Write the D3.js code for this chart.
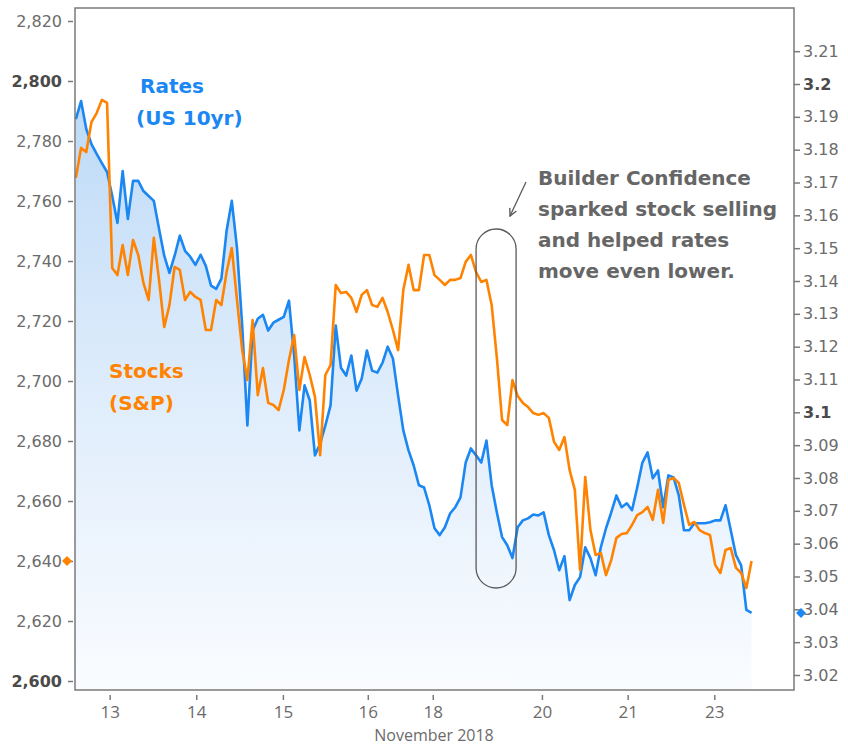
<!DOCTYPE html>
<html>
<head>
<meta charset="utf-8">
<script src="https://cdn.jsdelivr.net/npm/d3@7"></script>
<style>
body { margin: 0; background: #fff; }
svg text { font-family: "DejaVu Sans", Verdana, sans-serif; }
</style>
</head>
<body>
<div id="chart"></div>
<script>
// trading-session position of each sample (13 = start of Nov 13)
var times = [
  12.61,12.67,12.73,12.79,12.85,12.91,12.97,13.03,13.09,13.15,
  13.21,13.27,13.33,13.39,13.45,13.51,13.57,13.63,13.69,13.75,
  13.81,13.87,13.93,13.99,14.05,14.11,14.17,14.23,14.29,14.35,
  14.41,14.47,14.53,14.59,14.65,14.71,14.77,14.83,14.89,14.95,
  15.01,15.07,15.13,15.19,15.25,15.31,15.37,15.43,15.49,15.55,
  15.61,15.67,15.73,15.79,15.85,15.91,15.97,16.03,16.09,16.15,
  16.21,16.27,16.33,16.39,16.45,16.51,16.57,16.63,16.69,16.75,
  16.81,16.87,16.93,16.99,17.05,17.11,17.17,17.23,17.29,17.35,
  17.41,17.47,17.53,17.59,17.65,17.71,17.77,17.83,17.89,17.95,
  18.01,18.07,18.13,18.19,18.25,18.31,18.37,18.43,18.49,18.55,
  18.61,18.67,18.73,18.79,18.85,18.91,18.97,19.03,19.09,19.15,
  19.21,19.27,19.33,19.39,19.45,19.51,19.57,19.63,19.69,19.75,
  19.81,19.87,19.93,19.99,20.05,20.11,20.17,20.23,20.29,20.35,
  20.41
];

// S&P 500 (left axis)
var stocks = [
  2767.7,2777.7,2776.3,2786.3,2789.3,2793.7,2792.7,2737.7,2735.3,2745.3,
  2735.3,2747.0,2742.0,2732.7,2727.0,2747.7,2733.7,2718.0,2725.3,2738.0,
  2737.0,2727.0,2729.7,2728.0,2727.0,2717.0,2717.0,2727.0,2725.3,2736.3,
  2744.3,2727.0,2710.3,2700.3,2720.3,2695.3,2704.3,2692.7,2692.0,2690.3,
  2697.0,2707.0,2715.3,2697.0,2708.0,2702.0,2694.7,2675.3,2702.0,2705.3,
  2732.0,2729.3,2729.7,2727.7,2723.0,2728.7,2730.3,2725.3,2724.7,2727.7,
  2723.0,2717.0,2710.3,2730.3,2738.7,2730.3,2730.3,2742.0,2742.0,2735.3,
  2733.7,2732.0,2733.7,2733.7,2734.3,2739.7,2742.0,2736.3,2733.0,2733.7,
  2725.3,2707.7,2687.0,2685.3,2700.3,2695.0,2692.7,2691.3,2689.3,2688.7,
  2689.3,2687.7,2679.7,2677.0,2681.3,2670.3,2663.7,2637.0,2668.0,2650.3,
  2642.0,2642.7,2635.3,2640.3,2647.7,2649.0,2649.3,2652.0,2655.3,2656.3,
  2658.0,2653.7,2663.7,2652.7,2667.0,2667.7,2666.0,2658.7,2652.0,2653.0,
  2650.3,2649.3,2648.7,2638.7,2636.0,2643.7,2644.3,2637.7,2636.0,2631.0,
  2640.0
];

// US 10yr yield (right axis)
var rates = [
  3.1893,3.1948,3.1863,3.1817,3.1787,3.1759,3.1732,3.1659,3.1577,3.1735,
  3.1589,3.1705,3.1705,3.1674,3.1659,3.1644,3.1559,3.1477,3.1425,3.1477,
  3.1538,3.1492,3.1474,3.1449,3.1480,3.1446,3.1386,3.1376,3.1407,3.1553,
  3.1644,3.1501,3.1264,3.0960,3.1249,3.1285,3.1297,3.1249,3.1273,3.1282,
  3.1291,3.1340,3.1173,3.0945,3.1082,3.1036,3.0869,3.0905,3.0960,3.1021,
  3.1264,3.1136,3.1112,3.1173,3.1066,3.1103,3.1188,3.1127,3.1121,3.1151,
  3.1200,3.1164,3.1051,3.0945,3.0884,3.0838,3.0778,3.0771,3.0717,3.0647,
  3.0626,3.0650,3.0692,3.0711,3.0741,3.0847,3.0890,3.0869,3.0847,3.0914,
  3.0778,3.0695,3.0620,3.0595,3.0556,3.0650,3.0671,3.0677,3.0689,3.0686,
  3.0695,3.0626,3.0580,3.0519,3.0562,3.0428,3.0474,3.0498,3.0589,3.0556,
  3.0504,3.0589,3.0647,3.0695,3.0747,3.0711,3.0723,3.0702,3.0771,3.0847,
  3.0878,3.0799,3.0823,3.0711,3.0808,3.0802,3.0747,3.0641,3.0641,3.0662,
  3.0662,3.0662,3.0665,3.0671,3.0671,3.0717,3.0641,3.0565,3.0534,3.0398,
  3.0389
];

var xTickPos = [13, 14, 15, 15.98, 16.73, 17.99, 18.98, 19.98];
var xTickLabels = ["13", "14", "15", "16", "18", "20", "21", "23"];
var stockTicks = [2600, 2620, 2640, 2660, 2680, 2700, 2720, 2740, 2760, 2780, 2800, 2820];
var rateTicks = [3.02, 3.03, 3.04, 3.05, 3.06, 3.07, 3.08, 3.09, 3.1, 3.11,
                 3.12, 3.13, 3.14, 3.15, 3.16, 3.17, 3.18, 3.19, 3.2, 3.21];
var boldStockTicks = [2600, 2800];
var boldRateTicks = [3.1, 3.2];
var annotation = ["Builder Confidence", "sparked stock selling", "and helped rates", "move even lower."];

const margin = {top: 8, left: 75};
const width = 719;
const height = 682;
const blue = "#1a87f2";
const orange = "#ff8300";

var data = times.map(function (t, i) { return {t: t, s: stocks[i], r: rates[i]}; });

var xScale = d3.scaleLinear().domain([12.6, 20.9]).range([0, width]);
var yLeft = d3.scaleLinear().domain([2597, 2824.33]).range([height, 0]);
var yRight = d3.scaleLinear().domain([3.01543, 3.22315]).range([height, 0]);

var svg = d3.select("#chart").append("svg")
    .attr("width", 848)
    .attr("height", 748);

var defs = svg.append("defs");
var grad = defs.append("linearGradient")
    .attr("id", "rateFill")
    .attr("gradientUnits", "userSpaceOnUse")
    .attr("x1", 0).attr("y1", 90)
    .attr("x2", 0).attr("y2", height);
grad.selectAll("stop")
    .data([
        {offset: "0%", color: "#bddaf7"},
        {offset: "45%", color: "#dcebfb"},
        {offset: "100%", color: "#fafcff"}
    ])
    .enter().append("stop")
    .attr("offset", function (d) { return d.offset; })
    .attr("stop-color", function (d) { return d.color; });

var g = svg.append("g")
    .attr("transform", "translate(" + margin.left + "," + margin.top + ")");

// shaded area under rates
g.append("path")
    .datum(data)
    .attr("fill", "url(#rateFill)")
    .attr("d", d3.area()
        .x(function (d) { return xScale(d.t); })
        .y0(height)
        .y1(function (d) { return yRight(d.r); }));

g.append("path")
    .datum(data)
    .attr("fill", "none")
    .attr("stroke", blue)
    .attr("stroke-width", 2.6)
    .attr("stroke-linejoin", "round")
    .attr("d", d3.line()
        .x(function (d) { return xScale(d.t); })
        .y(function (d) { return yRight(d.r); }));

g.append("path")
    .datum(data)
    .attr("fill", "none")
    .attr("stroke", orange)
    .attr("stroke-width", 2.6)
    .attr("stroke-linejoin", "round")
    .attr("d", d3.line()
        .x(function (d) { return xScale(d.t); })
        .y(function (d) { return yLeft(d.s); }));

// frame
g.append("rect")
    .attr("x", 0).attr("y", 0)
    .attr("width", width).attr("height", height)
    .attr("fill", "none")
    .attr("stroke", "#7a7a7a")
    .attr("stroke-width", 1.5);

// axes
var leftAxis = d3.axisLeft(yLeft).tickValues(stockTicks).tickSize(5).tickPadding(6)
    .tickFormat(d3.format(","));
var gl = g.append("g").attr("transform", "translate(-2,0)").call(leftAxis);

var rightAxis = d3.axisRight(yRight).tickValues(rateTicks).tickSize(6).tickPadding(3)
    .tickFormat(function (d) { return boldRateTicks.indexOf(d) >= 0 ? d3.format(".1f")(d) : d3.format(".2f")(d); });
var gr = g.append("g").attr("transform", "translate(" + width + ",0)").call(rightAxis);

var bottomAxis = d3.axisBottom(xScale).tickValues(xTickPos).tickSize(5).tickPadding(6)
    .tickFormat(function (d, i) { return xTickLabels[i]; });
var gb = g.append("g").attr("transform", "translate(0," + (height + 5) + ")").call(bottomAxis);

[gl, gr, gb].forEach(function (a) {
    a.select(".domain").remove();
    a.selectAll(".tick line").attr("stroke", "#7a7a7a").attr("stroke-width", 1.5);
    a.selectAll(".tick text").attr("fill", "#6b6b6b").style("font-size", "16px");
});
gl.selectAll(".tick text")
    .filter(function (d) { return boldStockTicks.indexOf(d) >= 0; })
    .attr("fill", "#4a4a4a").style("font-weight", "bold");
gr.selectAll(".tick text")
    .filter(function (d) { return boldRateTicks.indexOf(d) >= 0; })
    .attr("fill", "#4a4a4a").style("font-weight", "bold");
gb.selectAll(".tick text")
    .style("font-family", "'Open Sans', sans-serif")
    .style("font-size", "17px");

g.append("text")
    .attr("x", 359)
    .attr("y", 733)
    .attr("text-anchor", "middle")
    .attr("fill", "#6b6b6b")
    .style("font-family", "'Open Sans', sans-serif")
    .style("font-size", "16px")
    .text("November 2018");

// last-value markers
var last = data[data.length - 1];
g.append("path")
    .attr("d", d3.symbol(d3.symbolSquare).size(50))
    .attr("transform", "translate(-8," + yLeft(last.s) + ") rotate(45)")
    .attr("fill", orange);
g.append("path")
    .attr("d", d3.symbol(d3.symbolSquare).size(50))
    .attr("transform", "translate(" + (width + 7) + "," + yRight(last.r) + ") rotate(45)")
    .attr("fill", blue);

// series labels
var lab = g.append("g").style("font-weight", "bold").style("font-size", "20px");
lab.append("text").attr("x", 65).attr("y", 85).attr("fill", blue).text("Rates");
lab.append("text").attr("x", 61).attr("y", 117).attr("fill", blue).text("(US 10yr)");
lab.append("text").attr("x", 34).attr("y", 370).attr("fill", orange).text("Stocks");
lab.append("text").attr("x", 34).attr("y", 402).attr("fill", orange).text("(S&P)");

// annotation
g.append("rect")
    .attr("x", xScale(17.23)).attr("y", 221)
    .attr("width", 40).attr("height", 359)
    .attr("rx", 20).attr("ry", 20)
    .attr("fill", "none")
    .attr("stroke", "#5a5a5a")
    .attr("stroke-width", 1.3);

defs.append("marker")
    .attr("id", "arrow")
    .attr("viewBox", "0 0 10 10")
    .attr("refX", 9).attr("refY", 5)
    .attr("markerWidth", 7).attr("markerHeight", 7)
    .attr("orient", "auto")
    .append("path")
    .attr("d", "M1,1 L9,5 L1,9")
    .attr("fill", "none")
    .attr("stroke", "#5a5a5a")
    .attr("stroke-width", 1.5);

g.append("line")
    .attr("x1", 451).attr("y1", 174)
    .attr("x2", 435).attr("y2", 208)
    .attr("stroke", "#5a5a5a")
    .attr("stroke-width", 1.3)
    .attr("marker-end", "url(#arrow)");

g.append("g").selectAll("text")
    .data(annotation)
    .enter().append("text")
    .attr("x", 463)
    .attr("y", function (d, i) { return 177 + i * 31; })
    .attr("fill", "#666")
    .style("font-weight", "bold")
    .style("font-size", "20px")
    .text(function (d) { return d; });
</script>
</body>
</html>
